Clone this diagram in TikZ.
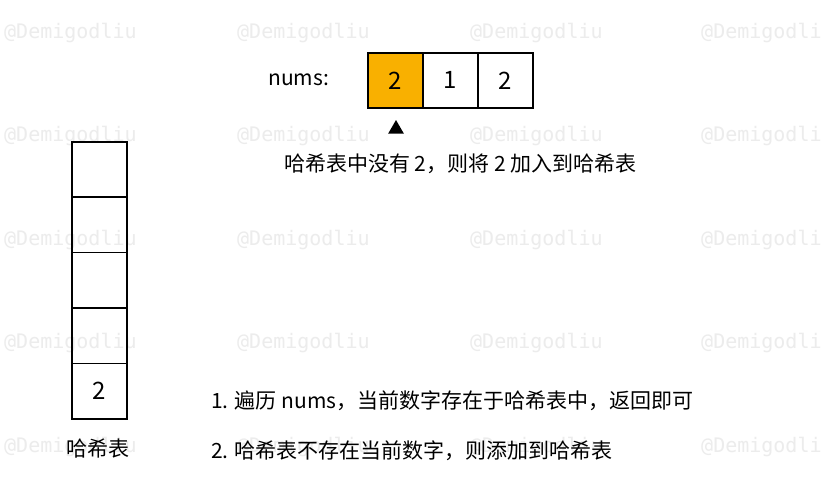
\documentclass[tikz,border=0pt]{standalone}
\usepackage{fontspec}
\setmainfont{Noto Sans CJK SC}
\newfontfamily\wmfont{DejaVu Sans Mono}
\usetikzlibrary{shapes.geometric}
\definecolor{hlorange}{HTML}{F9B000}
\definecolor{wmgray}{HTML}{ECECEC}
\tikzset{
  cell/.style={draw=black, line width=1.6pt, minimum width=55pt, minimum height=55pt, inner sep=0pt, anchor=north west, font=\fontsize{24}{26}\selectfont},
  hcell/.style={cell, minimum height=55.4pt},
  lbl/.style={inner sep=0pt, font=\fontsize{21}{24}\selectfont},
  wm/.style={inner sep=0pt, anchor=west, text=wmgray, font=\wmfont\fontsize{20}{22}\selectfont},
}
\begin{document}
\begin{tikzpicture}[x=1pt,y=-1pt]
\useasboundingbox (0,0) rectangle (821,487);
\fill[white] (0,0) rectangle (821,487);
% watermarks
\foreach \r in {0,1,2,3,4}{
  \foreach \c/\xx in {0/4,1/237,2/470,3/701}{
    \node[wm] (wm\r\c) at (\xx,{33+103.4*\r}) {@Demigodliu};
  }
}
% nums array
\node[lbl, anchor=west] (numslbl) at (268,80) {nums:};
\node[cell, fill=hlorange] (n0) at (367,52) {2};
\node[cell] (n1) at (422,52) {1};
\node[cell] (n2) at (477,52) {2};
% pointer
\node[regular polygon, regular polygon sides=3, fill=black, inner sep=0pt, minimum size=18pt] (ptr) at (396,129) {};
\node[lbl, anchor=west] (msg) at (284,164) {哈希表中没有 2，则将 2 加入到哈希表};
% hash table
\node[hcell] (h0) at (71,141) {};
\node[hcell] (h1) at (71,196.4) {};
\node[hcell] (h2) at (71,251.8) {};
\node[hcell] (h3) at (71,307.2) {};
\node[hcell] (h4) at (71,362.6) {2};
\node[lbl] (hlbl) at (98,449) {哈希表};
% notes
\node[lbl, anchor=west] (note1) at (211,401) {1. 遍历 nums，当前数字存在于哈希表中，返回即可};
\node[lbl, anchor=west] (note2) at (211,451) {2. 哈希表不存在当前数字，则添加到哈希表};
\end{tikzpicture}
\end{document}
